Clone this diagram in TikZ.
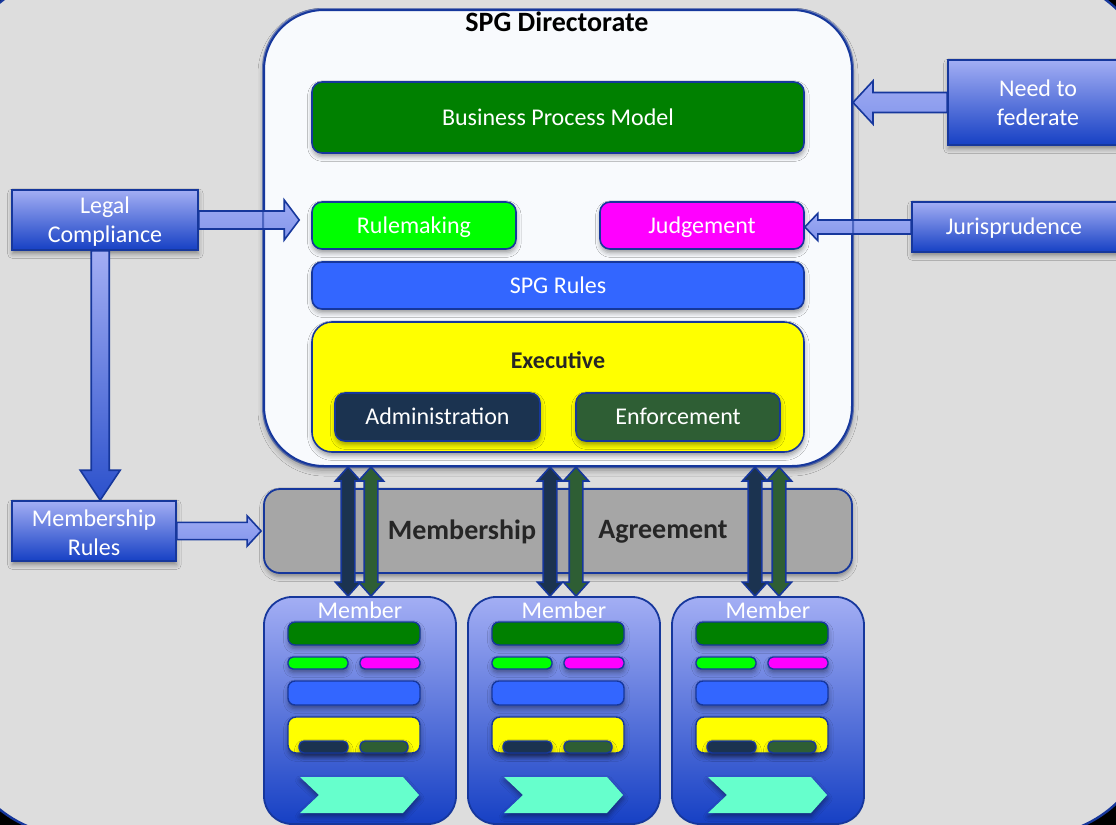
\documentclass[tikz,border=0pt]{standalone}
\usepackage{fontspec}
\setmainfont{Carlito}
\usetikzlibrary{calc,fit,shadows.blur}

\definecolor{edge}{HTML}{16379C}
\definecolor{slate}{HTML}{DDDDDD}
\definecolor{paper}{HTML}{F8FAFD}
\definecolor{bpmgreen}{HTML}{008000}
\definecolor{lime}{HTML}{00FF00}
\definecolor{pink}{HTML}{FF00FF}
\definecolor{rulesblue}{HTML}{3366FF}
\definecolor{execyellow}{HTML}{FFFF00}
\definecolor{adminnavy}{HTML}{1B3350}
\definecolor{enfgreen}{HTML}{2E5E34}
\definecolor{agreegrey}{HTML}{A6A6A6}
\definecolor{darktext}{HTML}{262626}
\definecolor{aqua}{HTML}{66FFCC}
\definecolor{calltop}{HTML}{A3AEF4}
\definecolor{callmid}{HTML}{7E92EA}
\definecolor{callbot}{HTML}{1640C4}

% straight block arrow: style, from, to, shaft half width, head half width, head length
\newcommand\sgArrow[6]{%
  \coordinate (sgA-h) at ($(#3)!#6!(#2)$);
  \path[#1] ($(#2)!#4!90:(#3)$) -- ($(sgA-h)!#4!-90:(#2)$) -- ($(sgA-h)!#5!-90:(#2)$)
    -- (#3) -- ($(sgA-h)!#5!90:(#2)$) -- ($(sgA-h)!#4!90:(#2)$)
    -- ($(#2)!#4!-90:(#3)$) -- cycle;
}
% block arrow with a head at both ends
\newcommand\sgDblArrow[6]{%
  \coordinate (sgD-a) at ($(#2)!#6!(#3)$);
  \coordinate (sgD-b) at ($(#3)!#6!(#2)$);
  \path[#1] (#2) -- ($(sgD-a)!#5!90:(#3)$) -- ($(sgD-a)!#4!90:(#3)$)
    -- ($(sgD-b)!#4!-90:(#2)$) -- ($(sgD-b)!#5!-90:(#2)$) -- (#3)
    -- ($(sgD-b)!#5!90:(#2)$) -- ($(sgD-b)!#4!90:(#2)$)
    -- ($(sgD-a)!#4!-90:(#3)$) -- ($(sgD-a)!#5!-90:(#3)$) -- cycle;
}

\tikzset{
  softshadow/.style={blur shadow={shadow xshift=0.2pt, shadow yshift=-1.8pt,
      shadow blur radius=2.4pt, shadow opacity=40}},
  panel/.style={draw=edge, line width=0.8pt, rounded corners=5pt, inner sep=0pt, softshadow},
  paneltext/.style={text=white, font=\fontsize{12}{14}\selectfont, inner sep=0pt,
      text height=9.6pt, text depth=2pt},
  minibar/.style={draw=edge, line width=0.7pt, rounded corners=2.5pt, inner sep=0pt, softshadow},
  callout/.style={draw=edge, line width=0.8pt, inner sep=0pt, top color=calltop,
      middle color=callmid, bottom color=callbot, softshadow},
  callouttext/.style={text=white, align=center, font=\fontsize{12}{14.5}\selectfont, inner sep=0pt},
  memberbox/.style={draw=edge, line width=0.9pt, rounded corners=14pt, inner sep=0pt,
      top color=calltop, middle color=callmid!90!calltop, bottom color=callbot},
  sidearrow/.style={draw=edge, line width=0.8pt, top color=calltop!85!callmid,
      bottom color=callmid!85!calltop},
  downarrow/.style={draw=edge, line width=0.8pt, top color=calltop, bottom color=callbot!85!calltop},
  navyarrow/.style={draw=edge, line width=0.8pt, fill=adminnavy},
  greenarrow/.style={draw=edge, line width=0.8pt, fill=enfgreen},
  boldlabel/.style={font=\bfseries\fontsize{14}{16}\selectfont, text=darktext, inner sep=0pt},
}

\begin{document}
\begin{tikzpicture}[x=0.5pt, y=-0.5pt]
\useasboundingbox (0,0) rectangle (1116,825);
\clip (0,0) rectangle (1116,825);

% slide backdrop
\fill[black] (0,0) rectangle (1116,825);
\draw[draw=edge, line width=1.2pt, fill=slate, rounded corners=60pt] (-45,-24) rectangle (1154,836);

% directorate frame
\node[draw=edge, line width=1pt, fill=paper, rounded corners=30pt, inner sep=0pt,
      blur shadow={shadow xshift=0pt, shadow yshift=-2pt, shadow blur radius=3pt, shadow opacity=40},
      fit={(264,10) (852,466)}] (dir) {};
\node[font=\bfseries\fontsize{14}{16}\selectfont, text=black, inner sep=0pt] (dirtitle) at (557,22) {SPG Directorate};

\node[panel, fill=bpmgreen, fit={(312,82) (804,153)}] (bpm) {};
\node[paneltext] (bpm-t) at (bpm) {Business Process Model};
\node[panel, fill=lime, fit={(312,202) (516,249)}] (rule) {};
\node[paneltext] (rule-t) at (rule) {Rulemaking};
\node[panel, fill=pink, fit={(600,202) (804,249)}] (judge) {};
\node[paneltext] (judge-t) at (judge) {Judgement};
\node[panel, fill=rulesblue, fit={(312,262) (804,309)}] (rules) {};
\node[paneltext] (rules-t) at (rules) {SPG Rules};
\node[panel, fill=execyellow, rounded corners=10pt, fit={(312,322) (804,452)}] (exec) {};
\node[font=\bfseries\fontsize{12}{14}\selectfont, text=darktext, inner sep=0pt] (exec-t) at (558,360) {Executive};
\node[panel, fill=adminnavy, fit={(335,393) (540,441)}] (admin) {};
\node[paneltext] (admin-t) at (admin) {Administration};
\node[panel, fill=enfgreen, fit={(576,393) (780,441)}] (enf) {};
\node[paneltext] (enf-t) at (enf) {Enforcement};

% membership agreement band
\node[draw=edge, line width=0.9pt, fill=agreegrey, rounded corners=8pt, inner sep=0pt,
      softshadow, fit={(264,489) (852,573)}] (agree) {};
\node[boldlabel] (agreeA) at (462,532) {Membership};
\node[boldlabel] (agreeB) at (663,532) {Agreement};

% member organisations
\foreach \i/\dx in {1/0, 2/204, 3/408} {
  \begin{scope}[xshift={\dx*0.5pt}]
    \node[memberbox, fit={(264,597) (456,824)}] (m\i) {};
    \node[paneltext] (m\i-lbl) at (360,611) {Member};
    \node[minibar, fill=bpmgreen, rounded corners=3.5pt, fit={(288,622) (420,645)}] (m\i-bpm) {};
    \node[minibar, fill=lime, fit={(288,657) (348,669)}] (m\i-rule) {};
    \node[minibar, fill=pink, fit={(360,657) (420,669)}] (m\i-judge) {};
    \node[minibar, fill=rulesblue, rounded corners=3.5pt, fit={(288,681) (420,705)}] (m\i-rules) {};
    \node[minibar, fill=execyellow, rounded corners=4pt, fit={(288,717) (420,753)}] (m\i-exec) {};
    \node[minibar, fill=adminnavy, fit={(299,741) (348,753)}] (m\i-admin) {};
    \node[minibar, fill=enfgreen, fit={(360,741) (408,753)}] (m\i-enf) {};
    \fill[aqua, softshadow] (300,777) -- (403,777) -- (419,795) -- (403,813) -- (300,813) -- (319,795) -- cycle;
  \end{scope}
}

% two-way links between the directorate and each member
\foreach \i/\l/\r in {1/-12/11, 2/-14/12, 3/-13/11} {
  \coordinate (n\i-b) at ($(m\i.north)+(\l,0)$);
  \coordinate (n\i-t) at (n\i-b |- dir.south);
  \coordinate (g\i-b) at ($(m\i.north)+(\r,0)$);
  \coordinate (g\i-t) at (g\i-b |- dir.south);
  \sgDblArrow{navyarrow}{n\i-t}{n\i-b}{3.4pt}{6.3pt}{7pt}
  \sgDblArrow{greenarrow}{g\i-t}{g\i-b}{3.4pt}{6.3pt}{7pt}
}

% external inputs
\node[callout, fit={(12,190) (198,250)}] (legal) {};
\node[callouttext] (legal-t) at (105,222) {Legal\\Compliance};
\node[callout, fit={(12,501) (176,561)}] (mrules) {};
\node[callouttext] (mrules-t) at (94,533) {Membership\\Rules};
\node[callout, fit={(948,60) (1130,145)}] (fed) {};
\node[callouttext] (fed-t) at (1038,103) {Need to\\federate};
\node[callout, fit={(912,202) (1120,252)}] (juris) {};
\node[callouttext, text height=9.6pt, text depth=2pt] (juris-t) at (1014,227) {Jurisprudence};

\coordinate (lc-tip) at ($(legal.east -| rule.west)+(-12,0)$);
\sgArrow{sidearrow}{legal.east}{lc-tip}{4.5pt}{10pt}{7.5pt}

\coordinate (lv-top) at ($(legal.south west)+(89,0)$);
\coordinate (lv-tip) at (lv-top |- mrules.north);
\sgArrow{downarrow}{lv-top}{lv-tip}{4.5pt}{10pt}{15pt}

\coordinate (mr-tip) at ($(mrules.east -| agree.west)+(-2,0)$);
\sgArrow{sidearrow}{mrules.east}{mr-tip}{4.3pt}{7.6pt}{7pt}

\coordinate (fd-tip) at (fed.west -| dir.east);
\sgArrow{sidearrow}{fed.west}{fd-tip}{5pt}{10.8pt}{10pt}

\coordinate (jr-tip) at (juris.west -| judge.east);
\sgArrow{sidearrow}{juris.west}{jr-tip}{3.5pt}{6.8pt}{6.5pt}

% directorate border shows through the incoming arrows
\draw[draw=edge, line width=1pt, rounded corners=30pt, opacity=0.55] (dir.south west) rectangle (dir.north east);
\end{tikzpicture}
\end{document}
